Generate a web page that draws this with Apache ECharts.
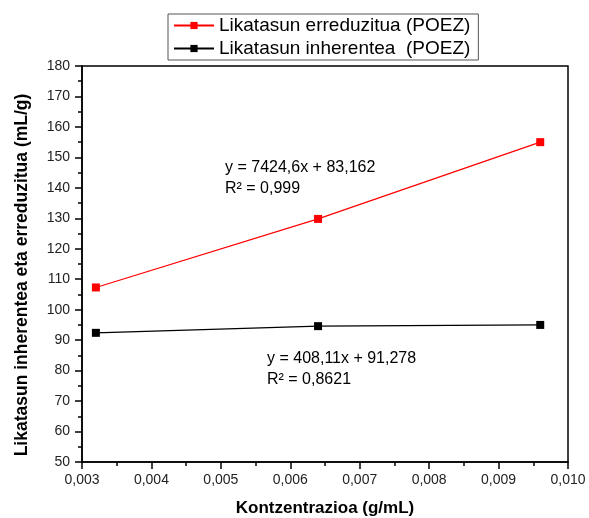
<!DOCTYPE html>
<html>
<head>
<meta charset="utf-8">
<script src="https://cdn.jsdelivr.net/npm/echarts@6/dist/echarts.min.js"></script>
<style>
html,body{margin:0;padding:0;background:#fff;}
#c{width:589px;height:518px;}
</style>
</head>
<body>
<div id="c"></div>
<script>
const concentrations = [0.0032, 0.0064, 0.0096];
const reducedViscosity = [107.3, 129.8, 155.0];
const inherentViscosity = [92.4, 94.6, 95.0];
const seriesNames = ['Likatasun erreduzitua (POEZ)', 'Likatasun inherentea  (POEZ)'];
const xTitle = 'Kontzentrazioa (g/mL)';
const yTitle = 'Likatasun inherentea eta erreduzitua (mL/g)';
const eq1 = ['y = 7424,6x + 83,162', 'R² = 0,999'];
const eq2 = ['y = 408,11x + 91,278', 'R² = 0,8621'];

const FONT = 'Arial, "Liberation Sans", sans-serif';
const chart = echarts.init(document.getElementById('c'));

function pairs(xs, ys){ return xs.map((x,i)=>[x, ys[i]]); }

chart.setOption({
  animation: false,
  backgroundColor: '#fff',
  grid: {left: 82, right: 21, top: 66, bottom: 56, outerBoundsMode: 'none', containLabel: false,
         show: true, borderColor: '#000', borderWidth: 1.5, backgroundColor: 'transparent'},
  legend: {
    orient: 'vertical',
    left: 168, top: 14,
    padding: [1, 8, 1, 5],
    itemGap: 2,
    itemWidth: 40, itemHeight: 9,
    borderColor: '#555', borderWidth: 1,
    backgroundColor: '#fff',
    textStyle: {fontFamily: FONT, fontSize: 19, lineHeight: 21, color: '#000', padding: [0,0,0,0]},
    data: seriesNames,
    z: 10
  },
  xAxis: {
    type: 'value', min: 0.003, max: 0.010, interval: 0.001,
    name: xTitle, nameLocation: 'middle', nameGap: 38,
    nameTextStyle: {fontFamily: FONT, fontSize: 17, fontWeight: 'bold', color: '#000'},
    axisLine: {show: true, lineStyle: {color: '#000', width: 1.5}},
    axisTick: {show: true, inside: false, length: 7, lineStyle: {color: '#000', width: 1.5}},
    minorTick: {show: true, splitNumber: 2, length: 4, lineStyle: {color: '#000', width: 1.5}},
    splitLine: {show: false},
    axisLabel: {fontFamily: FONT, fontSize: 14, color: '#222', margin: 11,
      formatter: v => v.toFixed(3).replace('.', ',')}
  },
  yAxis: {
    type: 'value', min: 50, max: 180, interval: 10,
    axisLine: {show: true, lineStyle: {color: '#000', width: 1.5}},
    axisTick: {show: true, inside: false, length: 7, lineStyle: {color: '#000', width: 1.5}},
    minorTick: {show: true, splitNumber: 2, length: 4, lineStyle: {color: '#000', width: 1.5}},
    splitLine: {show: false},
    axisLabel: {fontFamily: FONT, fontSize: 14, color: '#222', margin: 12}
  },
  series: [
    {name: seriesNames[0], type: 'line', data: pairs(concentrations, reducedViscosity),
     symbol: 'rect', symbolSize: 8, color: '#ff0000',
     lineStyle: {color: '#ff0000', width: 1.2}, itemStyle: {color: '#ff0000'}},
    {name: seriesNames[1], type: 'line', data: pairs(concentrations, inherentViscosity),
     symbol: 'rect', symbolSize: 8, color: '#000',
     lineStyle: {color: '#000', width: 1.2}, itemStyle: {color: '#000'}}
  ],
  graphic: [
    {type: 'text', x: 22, y: 275, rotation: Math.PI / 2,
     style: {text: yTitle, font: 'bold 17.5px ' + FONT, fill: '#000', align: 'center', verticalAlign: 'middle'}},
    {type: 'text', left: 225, top: 160, style: {text: eq1[0], font: '16px ' + FONT, fill: '#000'}},
    {type: 'text', left: 225, top: 181, style: {text: eq1[1], font: '16px ' + FONT, fill: '#000'}},
    {type: 'text', left: 267, top: 351, style: {text: eq2[0], font: '16px ' + FONT, fill: '#000'}},
    {type: 'text', left: 267, top: 372, style: {text: eq2[1], font: '16px ' + FONT, fill: '#000'}}
  ]
});
</script>
</body>
</html>
